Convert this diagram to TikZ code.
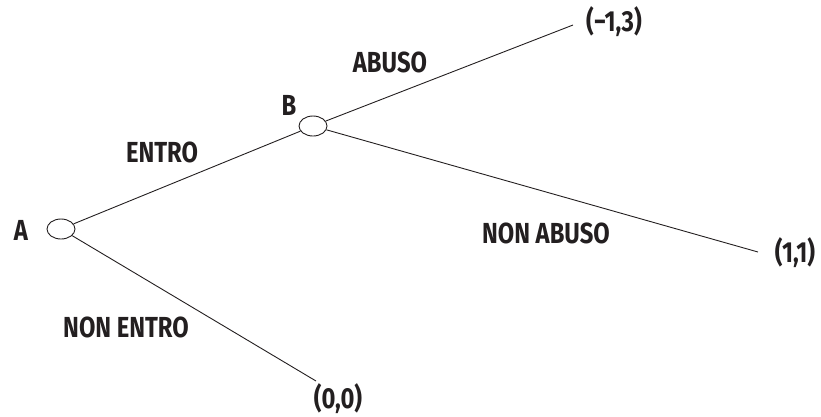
\documentclass[tikz,border=0pt]{standalone}
\usepackage{fontspec}
\setmainfont{Fira Sans}[FakeStretch=0.82]
\usetikzlibrary{shapes.geometric}
\definecolor{ink}{HTML}{231F20}
\begin{document}
\begin{tikzpicture}[x=1pt,y=-1pt,
  decision/.style={draw=ink, ellipse, line width=0.9pt, minimum width=28pt, minimum height=20pt, inner sep=0pt},
  branch/.style={draw=ink, line width=0.9pt},
  lbl/.style={text=ink, font=\bfseries\fontsize{29}{32}\selectfont, inner sep=0pt, anchor=center}]
  \useasboundingbox (0,0) rectangle (821,416);

  % decision nodes
  \node[decision] (A) at (61,229) {};
  \node[decision] (B) at (313,126) {};

  % payoff ends of the branches
  \coordinate (pA) at (573,25);
  \coordinate (pB) at (758,252);
  \coordinate (pC) at (316,381);

  % branches
  \draw[branch] (A) -- (B);
  \draw[branch] (A) -- (pC);
  \draw[branch] (B) -- (pA);
  \draw[branch] (B) -- (pB);

  % player names
  \node[lbl] (nA) at (21,230) {A};
  \node[lbl] (nB) at (289,105) {B};

  % move names
  \node[lbl] (mEntro) at (162,152) {ENTRO};
  \node[lbl] (mNonEntro) at (126,327) {NON ENTRO};
  \node[lbl] (mAbuso) at (390,62) {ABUSO};
  \node[lbl] (mNonAbuso) at (546,233) {NON ABUSO};

  % payoffs
  \node[lbl] (vA) at (614,22) {(−1,3)};
  \node[lbl] (vB) at (795,253) {(1,1)};
  \node[lbl, anchor=base] (vC) at (338,408) {(0,0)};
\end{tikzpicture}
\end{document}
